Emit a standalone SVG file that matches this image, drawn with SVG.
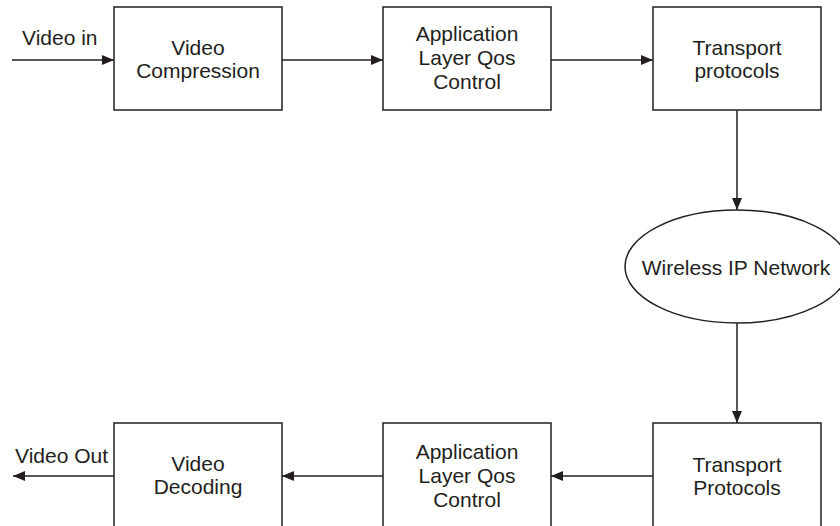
<svg xmlns="http://www.w3.org/2000/svg" width="840" height="526" viewBox="0 0 840 526">
<style>
.box{fill:#fff;stroke:#231f20;stroke-width:1.5}
.t{font-family:"Liberation Sans",Arial,sans-serif;font-size:21px;fill:#231f20;text-anchor:middle}
.l{font-family:"Liberation Sans",Arial,sans-serif;font-size:21px;fill:#231f20}
.c{fill:none;stroke:#231f20;stroke-width:1.5}
</style>
<defs>
<marker id="ah" viewBox="0 0 12 10" refX="12" refY="5" markerWidth="12" markerHeight="10" markerUnits="userSpaceOnUse" orient="auto">
<path d="M0,0 L12,5 L0,10 Z" fill="#231f20"/>
</marker>
</defs>
<rect width="840" height="526" fill="#fff"/>
<g id="connectors">
<line class="c" x1="12" y1="60" x2="114" y2="60" marker-end="url(#ah)"/>
<line class="c" x1="282" y1="60" x2="383" y2="60" marker-end="url(#ah)"/>
<line class="c" x1="551" y1="60" x2="653" y2="60" marker-end="url(#ah)"/>
<line class="c" x1="737" y1="110" x2="737" y2="210" marker-end="url(#ah)"/>
<line class="c" x1="737" y1="323" x2="737" y2="423" marker-end="url(#ah)"/>
<line class="c" x1="653" y1="476" x2="551" y2="476" marker-end="url(#ah)"/>
<line class="c" x1="383" y1="476" x2="282" y2="476" marker-end="url(#ah)"/>
<line class="c" x1="114" y1="476" x2="13" y2="476" marker-end="url(#ah)"/>
<text class="l" x="22" y="45">Video in</text>
<text class="l" x="15" y="463">Video Out</text>
</g>
<g id="video-compression">
<rect class="box" x="114" y="7" width="168" height="103"/>
<text class="t" x="198" y="55">Video</text>
<text class="t" x="198" y="78">Compression</text>
</g>
<g id="app-qos-top">
<rect class="box" x="383" y="7" width="168" height="103"/>
<text class="t" x="467" y="41">Application</text>
<text class="t" x="467" y="65">Layer Qos</text>
<text class="t" x="467" y="89">Control</text>
</g>
<g id="transport-top">
<rect class="box" x="653" y="7" width="168" height="103"/>
<text class="t" x="737" y="55">Transport</text>
<text class="t" x="737" y="78">protocols</text>
</g>
<g id="wireless">
<ellipse class="box" cx="737" cy="266.5" rx="112" ry="56.5"/>
<text class="t" x="736" y="275">Wireless IP Network</text>
</g>
<g id="transport-bottom">
<rect class="box" x="653" y="423" width="168" height="110"/>
<text class="t" x="737" y="472">Transport</text>
<text class="t" x="737" y="495">Protocols</text>
</g>
<g id="app-qos-bottom">
<rect class="box" x="383" y="423" width="168" height="110"/>
<text class="t" x="467" y="459">Application</text>
<text class="t" x="467" y="483">Layer Qos</text>
<text class="t" x="467" y="507">Control</text>
</g>
<g id="video-decoding">
<rect class="box" x="114" y="423" width="168" height="110"/>
<text class="t" x="198" y="471">Video</text>
<text class="t" x="198" y="494">Decoding</text>
</g>
</svg>
